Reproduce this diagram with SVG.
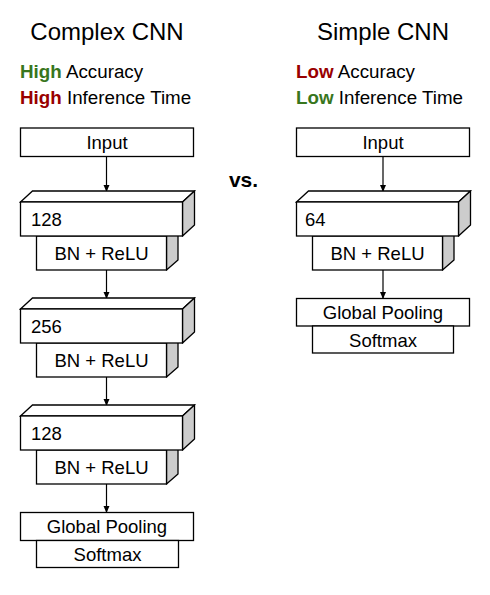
<svg xmlns="http://www.w3.org/2000/svg" width="490" height="595" viewBox="0 0 490 595">
<defs>
<marker id="ah" markerWidth="7" markerHeight="7" refX="6" refY="3" orient="auto" markerUnits="userSpaceOnUse">
<path d="M0,0 L7,3 L0,6 Z" fill="#000"/>
</marker>
<style>
.box{fill:#fff;stroke:#000;stroke-width:1.3}
.side{fill:#cccccc;stroke:#000;stroke-width:1.3;stroke-linejoin:round}
.t{font-family:"Liberation Sans",Arial,sans-serif;font-size:18.5px;fill:#000}
.h{font-family:"Liberation Sans",Arial,sans-serif;font-size:18.8px;fill:#000}
.vs{font-family:"Liberation Sans",Arial,sans-serif;font-size:21px;font-weight:bold;fill:#000;text-anchor:middle}
.c{text-anchor:middle}
.title{font-family:"Liberation Sans",Arial,sans-serif;font-size:24px;fill:#000;text-anchor:middle}
.g{fill:#38761d;font-weight:bold}
.r{fill:#990000;font-weight:bold}
.con{stroke:#000;stroke-width:1.2;fill:none}
</style>
</defs>
<rect width="490" height="595" fill="#fff"/>
<g id="headers">
<text class="title" x="107" y="40">Complex CNN</text>
<text class="title" x="383" y="40">Simple CNN</text>
<text class="h" x="20" y="78"><tspan class="g">High</tspan> Accuracy</text>
<text class="h" x="20" y="104"><tspan class="r">High</tspan> Inference Time</text>
<text class="h" x="296" y="78"><tspan class="r">Low</tspan> Accuracy</text>
<text class="h" x="296" y="104"><tspan class="g">Low</tspan> Inference Time</text>
<text class="vs" x="243.5" y="187">vs.</text>
</g>
<g id="connectors">
<line class="con" x1="106.5" y1="157" x2="106.5" y2="191" marker-end="url(#ah)"/>
<line class="con" x1="106.5" y1="270" x2="106.5" y2="298" marker-end="url(#ah)"/>
<line class="con" x1="106.5" y1="377" x2="106.5" y2="405" marker-end="url(#ah)"/>
<line class="con" x1="106.5" y1="484" x2="106.5" y2="512" marker-end="url(#ah)"/>
<line class="con" x1="383" y1="157" x2="383" y2="191" marker-end="url(#ah)"/>
<line class="con" x1="383" y1="270" x2="383" y2="298" marker-end="url(#ah)"/>
</g>
<g id="c-input">
<rect class="box" x="20.5" y="128" width="173" height="28.5"/>
<text class="t c" x="107" y="149">Input</text>
</g>
<g id="c-bn1">
<path class="side" d="M166.5,236 L178,226 L178,260 L166.5,270 Z"/>
<rect class="box" x="36.5" y="236" width="130" height="34"/>
<text class="t c" x="101.5" y="260">BN + ReLU</text>
</g>
<g id="c-conv1">
<path class="box" d="M20.5,202 L32.5,191 L194.5,191 L182.5,202 Z"/>
<path class="side" d="M182.5,202 L194.5,191 L194.5,225 L182.5,236 Z"/>
<rect class="box" x="20.5" y="202" width="162" height="34"/>
<text class="t" x="31" y="225.5">128</text>
</g>
<g id="c-bn2">
<path class="side" d="M166.5,343 L178,333 L178,367 L166.5,377 Z"/>
<rect class="box" x="36.5" y="343" width="130" height="34"/>
<text class="t c" x="101.5" y="367">BN + ReLU</text>
</g>
<g id="c-conv2">
<path class="box" d="M20.5,309 L32.5,298 L194.5,298 L182.5,309 Z"/>
<path class="side" d="M182.5,309 L194.5,298 L194.5,332 L182.5,343 Z"/>
<rect class="box" x="20.5" y="309" width="162" height="34"/>
<text class="t" x="31" y="332.5">256</text>
</g>
<g id="c-bn3">
<path class="side" d="M166.5,450 L178,440 L178,474 L166.5,484 Z"/>
<rect class="box" x="36.5" y="450" width="130" height="34"/>
<text class="t c" x="101.5" y="474">BN + ReLU</text>
</g>
<g id="c-conv3">
<path class="box" d="M20.5,416 L32.5,405 L194.5,405 L182.5,416 Z"/>
<path class="side" d="M182.5,416 L194.5,405 L194.5,439 L182.5,450 Z"/>
<rect class="box" x="20.5" y="416" width="162" height="34"/>
<text class="t" x="31" y="439.5">128</text>
</g>
<g id="c-gp">
<rect class="box" x="20.5" y="512.5" width="173" height="28"/>
<text class="t c" x="107" y="532.5">Global Pooling</text>
</g>
<g id="c-softmax">
<rect class="box" x="36.5" y="540.5" width="142" height="27"/>
<text class="t c" x="107.5" y="560.5">Softmax</text>
</g>
<g id="s-input">
<rect class="box" x="296.5" y="128" width="173" height="28.5"/>
<text class="t c" x="383" y="149">Input</text>
</g>
<g id="s-bn1">
<path class="side" d="M442.5,236 L454,226 L454,260 L442.5,270 Z"/>
<rect class="box" x="312.5" y="236" width="130" height="34"/>
<text class="t c" x="377.5" y="260">BN + ReLU</text>
</g>
<g id="s-conv1">
<path class="box" d="M296.5,202 L308.5,191 L470.5,191 L458.5,202 Z"/>
<path class="side" d="M458.5,202 L470.5,191 L470.5,225 L458.5,236 Z"/>
<rect class="box" x="296.5" y="202" width="162" height="34"/>
<text class="t" x="305" y="225.5">64</text>
</g>
<g id="s-gp">
<rect class="box" x="296.5" y="298.5" width="173" height="27.5"/>
<text class="t c" x="383" y="318.5">Global Pooling</text>
</g>
<g id="s-softmax">
<rect class="box" x="312.5" y="326" width="141" height="27"/>
<text class="t c" x="383" y="346.5">Softmax</text>
</g>
</svg>
